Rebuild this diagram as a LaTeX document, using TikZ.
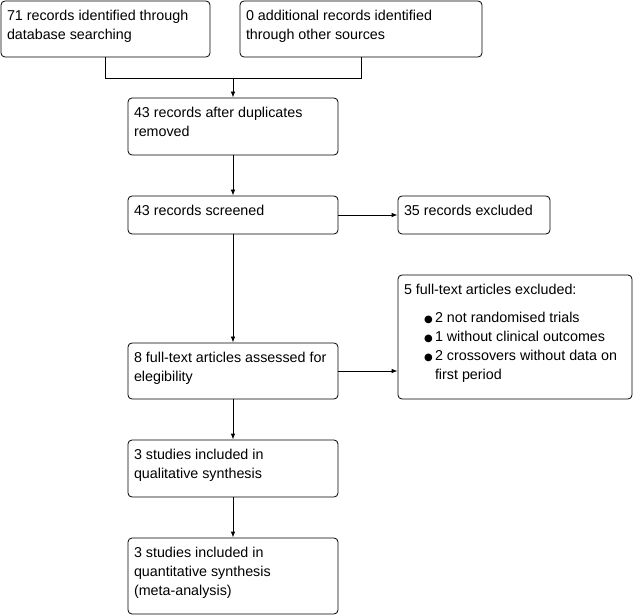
\documentclass[tikz,border=0pt]{standalone}
\usepackage{fontspec}
\setmainfont{Liberation Sans}
\newfontfamily\symfont{DejaVu Sans}
\usetikzlibrary{arrows.meta}
\tikzset{
  flow box/.style={
    rectangle, rounded corners=4pt, draw=black, line width=0.8pt, fill=white,
    inner xsep=6pt, inner ysep=0pt,
    font=\fontsize{14.3}{19}\selectfont
  },
  flow line/.style={
    draw=black, line width=0.8pt
  },
  flow arrow/.style={
    draw=black, line width=0.8pt, -{Latex[length=6pt,width=4.5pt]}
  }
}
% box text: width, height, lines (first baseline 19.7pt below the top)
\newcommand{\flowtext}[3]{\parbox[c][#2][t]{#1}{\raggedright\rule{0pt}{19.7pt}#3}}
\newcommand{\exclbullet}{\leavevmode\llap{\makebox[11pt][l]{\raisebox{0.5pt}{\fontsize{10}{10}\symfont ●}}}}

\begin{document}
\begin{tikzpicture}[x=1pt,y=-1pt]
\useasboundingbox (0,0) rectangle (633,615);
% ------------------------------------------------
% identification
% ------------------------------------------------
\node[flow box] (dbRec) at (105.5,29)
  {\flowtext{197pt}{56pt}{71 records identified through\\database searching}};
\node[flow box] (otherRec) at (361,29)
  {\flowtext{230pt}{56pt}{0 additional records identified\\through other sources}};
\node[flow box] (dupRec) at (233,126.5)
  {\flowtext{198pt}{57pt}{43 records after duplicates\\removed}};

% ------------------------------------------------
% screening
% ------------------------------------------------
\node[flow box] (scrRec) at (233,215)
  {\flowtext{198pt}{38pt}{43 records screened}};
\node[flow box] (exRec) at (474,215)
  {\flowtext{140pt}{38pt}{35 records excluded}};

% ------------------------------------------------
% eligibility
% ------------------------------------------------
\node[flow box] (fullArt) at (233,371)
  {\flowtext{198pt}{56pt}{8 full-text articles assessed for\\elegibility}};
\node[flow box] (exArt) at (515,337)
  {\flowtext{222pt}{124pt}{5 full-text articles excluded:\par\vspace{9pt}
   \leftskip=31pt
   \exclbullet 2 not randomised trials\par
   \exclbullet 1 without clinical outcomes\par
   \exclbullet 2 crossovers without data on\\first period}};

% ------------------------------------------------
% included
% ------------------------------------------------
\node[flow box] (qualSyn) at (233,468.5)
  {\flowtext{198pt}{57pt}{3 studies included in\\qualitative synthesis}};
\node[flow box] (quantSyn) at (233,576)
  {\flowtext{198pt}{76pt}{3 studies included in\\quantitative synthesis\\(meta-analysis)}};

% ------------------------------------------------
% connectors
% ------------------------------------------------
\coordinate (joinL) at (dbRec.south |- 0,78);
\coordinate (joinR) at (otherRec.south |- 0,78);
\coordinate (joinM) at (dupRec.north |- 0,78);
\draw[flow line] (dbRec.south) -- (joinL) -- (joinR) -- (otherRec.south);
\draw[flow arrow] (joinM) -- (dupRec.north);
\draw[flow arrow] (dupRec) -- (scrRec);
\draw[flow arrow] (scrRec) -- (exRec);
\draw[flow arrow] (scrRec) -- (fullArt);
\draw[flow arrow] (fullArt.east) -- (exArt.west |- fullArt.east);
\draw[flow arrow] (fullArt) -- (qualSyn);
\draw[flow arrow] (qualSyn) -- (quantSyn);
\end{tikzpicture}
\end{document}
